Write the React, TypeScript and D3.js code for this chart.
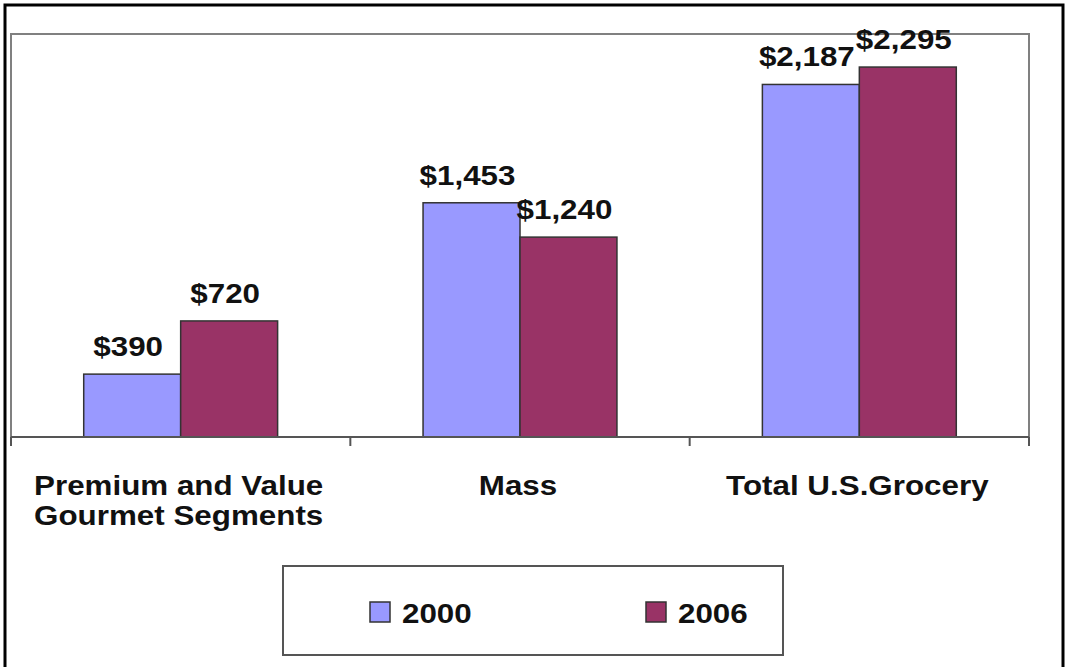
import React from "react";
import * as d3 from "d3";

const categories: string[][] = [
  ["Premium and Value", "Gourmet Segments"],
  ["Mass"],
  ["Total U.S.Grocery"],
];
const categoryKeys = ["premium", "mass", "total"];
const seriesNames = ["2000", "2006"];
const values2000 = [390, 1453, 2187];
const values2006 = [720, 1240, 2295];
const valueLabels2000 = ["$390", "$1,453", "$2,187"];
const valueLabels2006 = ["$720", "$1,240", "$2,295"];
const colors = ["#9999FF", "#993366"];

const W = 1065;
const H = 667;
const plot = { left: 11, right: 1029, top: 34, bottom: 437 };
const FONT = "'Liberation Sans', Arial, sans-serif";
const SX = 1.12;

function StretchText({ x, y, children, anchor = "middle", size = 28 }: any) {
  return (
    <text
      transform={`translate(${x},${y}) scale(${SX},1)`}
      textAnchor={anchor}
      fontFamily={FONT}
      fontWeight="bold"
      fontSize={size}
      fill="#111"
    >
      {children}
    </text>
  );
}

export default function App() {
  const x0 = d3.scaleBand<string>().domain(categoryKeys).range([plot.left, plot.right]).padding(0);
  const x1 = d3
    .scaleBand<string>()
    .domain(seriesNames)
    .range([0, x0.bandwidth()])
    .paddingInner(0)
    .paddingOuter(0.75);
  const y = d3.scaleLinear().domain([0, 2500]).range([plot.bottom, plot.top]);

  const series = [
    { name: seriesNames[0], values: values2000, labels: valueLabels2000, color: colors[0] },
    { name: seriesNames[1], values: values2006, labels: valueLabels2006, color: colors[1] },
  ];

  const tickXs = [plot.left, ...categoryKeys.slice(1).map((k) => x0(k)!), plot.right];

  return (
    <svg
      width={W}
      height={H}
      style={{ position: "absolute", left: 0, top: 0, background: "#fff" }}
    >
      <rect x={0} y={0} width={W} height={H} fill="#fff" />
      {/* outer frame */}
      <rect x={5} y={5} width={1058} height={H + 20} fill="none" stroke="#000" strokeWidth={3} />
      {/* plot area frame */}
      <rect
        x={plot.left}
        y={plot.top}
        width={plot.right - plot.left}
        height={plot.bottom - plot.top}
        fill="#fff"
        stroke="#808080"
        strokeWidth={2}
      />
      {/* bars */}
      {series.map((s) =>
        categoryKeys.map((k, i) => {
          const bx = x0(k)! + x1(s.name)!;
          const by = y(s.values[i]);
          return (
            <rect
              key={s.name + k}
              x={bx}
              y={by}
              width={x1.bandwidth()}
              height={y(0) - by}
              fill={s.color}
              stroke="#333"
              strokeWidth={1.5}
            />
          );
        })
      )}
      {/* axis line */}
      <line x1={plot.left} x2={plot.right} y1={y(0)} y2={y(0)} stroke="#555" strokeWidth={2} />
      {tickXs.map((tx, i) => (
        <line key={i} x1={tx} x2={tx} y1={y(0)} y2={y(0) + 9} stroke="#555" strokeWidth={2} />
      ))}
      {/* value labels */}
      {series.map((s) =>
        categoryKeys.map((k, i) => {
          const cx = x0(k)! + x1(s.name)! + x1.bandwidth() / 2 - 4;
          return (
            <StretchText key={"l" + s.name + k} x={cx} y={y(s.values[i]) - 18}>
              {s.labels[i]}
            </StretchText>
          );
        })
      )}
      {/* category labels */}
      {categories.map((lines, i) =>
        lines.map((ln, j) => (
          <StretchText key={"c" + i + j} x={x0(categoryKeys[i])! + x0.bandwidth() / 2 - 2} y={495 + j * 30}>
            {ln}
          </StretchText>
        ))
      )}
      {/* legend */}
      <rect x={283} y={566} width={500} height={89} fill="#fff" stroke="#555" strokeWidth={2} />
      {series.map((s, i) => {
        const lx = i === 0 ? 370 : 646;
        return (
          <g key={"lg" + s.name}>
            <rect x={lx} y={602} width={20} height={20} fill={s.color} stroke="#333" strokeWidth={1.5} />
            <StretchText x={lx + 32} y={623} anchor="start">
              {s.name}
            </StretchText>
          </g>
        );
      })}
    </svg>
  );
}
